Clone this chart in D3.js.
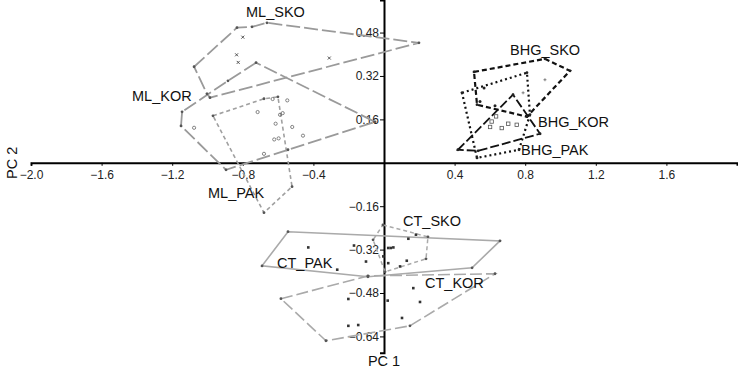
<!DOCTYPE html>
<html><head><meta charset="utf-8">
<script src="https://cdn.jsdelivr.net/npm/d3@7"></script>
<style>body{margin:0;background:#fff}svg{display:block}text{font-family:"Liberation Sans",Arial,sans-serif}</style>
</head><body><svg id="c" width="738" height="370"></svg>
<script>
// ---- data (PC1, PC2) ----
const groups = ["ML_SKO","ML_KOR","ML_PAK","BHG_SKO","BHG_KOR","BHG_PAK","CT_PAK","CT_KOR","CT_SKO"];
const hullML_SKO = [[-1.076,0.354],[-0.833,0.498],[-0.748,0.501],[-0.663,0.516],[0.198,0.442],[-0.986,0.240],[-1.003,0.254]];
const hullML_KOR = [[-0.725,0.369],[-0.884,0.302],[-1.144,0.188],[-1.150,0.136],[-0.895,-0.026],[-0.544,0.048],[-0.051,0.151]];
const hullML_PAK = [[-0.969,0.173],[-0.680,0.236],[-0.601,0.243],[-0.521,-0.088],[-0.680,-0.184]];
const hullBHG_SKO = [[0.510,0.335],[0.912,0.383],[1.054,0.339],[0.810,0.170],[0.527,0.214]];
const hullBHG_KOR = [[0.442,0.258],[0.810,0.332],[0.827,0.177],[0.765,0.048],[0.527,0.018]];
const hullBHG_PAK = [[0.419,0.048],[0.731,0.251],[0.884,0.107],[0.533,0.044]];
const hullCT_PAK = [[-0.544,-0.254],[0.657,-0.288],[0.499,-0.387],[-0.091,-0.420],[-0.691,-0.380]];
const hullCT_KOR = [[-0.584,-0.501],[-0.091,-0.417],[0.629,-0.409],[0.147,-0.601],[-0.329,-0.656]];
const hullCT_SKO = [[-0.006,-0.229],[0.249,-0.273],[0.238,-0.354],[0.006,-0.402],[-0.062,-0.284]];

const ptsML_SKO = [[-0.800,0.463],[-0.835,0.398],[-0.826,0.370],[-0.310,0.386]];
const ptsML_PAK = [[-0.631,0.235],[-0.548,0.230],[-0.716,0.187],[-0.589,0.177],[-0.574,0.183],[-0.614,0.144],[-0.520,0.132],[-0.459,0.100],[-0.622,0.086],[-0.597,0.090],[-0.680,0.033],[-1.076,0.129]];
const ptsBHG_sq = [[0.635,0.171],[0.601,0.132],[0.667,0.128],[0.704,0.144],[0.752,0.140],[0.610,0.152]];
const ptsBHG_plus = [[0.788,0.258],[0.912,0.306]];
const ptsBHG_dot = [[0.629,0.210],[0.544,0.226],[0.567,0.276]];
const ptsCT = [[0.138,-0.280],[0.181,-0.265],[0.038,-0.314],[0.053,-0.312],[0.024,-0.314],[-0.102,-0.364],[0.024,-0.370],[0.129,-0.361],[0.091,-0.382],[-0.004,-0.345],[-0.170,-0.305],[-0.429,-0.312],[-0.265,-0.394],[-0.202,-0.502],[0.166,-0.462],[0.204,-0.513],[0.021,-0.508],[-0.202,-0.601],[-0.146,-0.598],[0.102,-0.572]];

const xTicks = [-2.0,-1.6,-1.2,-0.8,-0.4,0.4,0.8,1.2,1.6];
const yTicks = [0.48,0.32,0.16,-0.16,-0.32,-0.48,-0.64];

// ---- layout ----
const svg = d3.select("#c");
const x = d3.scaleLinear().domain([-2,2]).range([31,737]);
const y = d3.scaleLinear().domain([-0.7,0.6]).range([352.7,0]);

const hulls = [
  {d:hullML_SKO, stroke:"#9a9a9a", dash:"14,4", w:1.8},
  {d:hullML_KOR, stroke:"#9a9a9a", dash:"14,4", w:1.8},
  {d:hullML_PAK, stroke:"#a0a0a0", dash:"4,3", w:1.6},
  {d:hullBHG_SKO, stroke:"#111", dash:"5,3", w:2.2},
  {d:hullBHG_KOR, stroke:"#111", dash:"2,3", w:2.2},
  {d:hullBHG_PAK, stroke:"#111", dash:"9,3", w:1.8},
  {d:hullCT_PAK, stroke:"#aaaaaa", dash:null, w:1.6},
  {d:hullCT_KOR, stroke:"#aaaaaa", dash:"12,4", w:1.6},
  {d:hullCT_SKO, stroke:"#aaaaaa", dash:"4,3", w:1.5}
];
const line = d3.line().x(d=>x(d[0])).y(d=>y(d[1])).curve(d3.curveLinearClosed);

// axes
const gx = svg.append("g").attr("transform",`translate(0,${y(0)})`)
  .call(d3.axisBottom(x).tickValues(xTicks).tickSize(3).tickFormat(d3.format(".1f")));
gx.select(".domain").attr("stroke","#000").attr("stroke-width",2);
gx.selectAll(".tick line").attr("stroke","#000");
gx.selectAll(".tick text").attr("font-size",12).attr("fill","#222").attr("dy","0.85em");

const gy = svg.append("g").attr("transform",`translate(${x(0)},0)`)
  .call(d3.axisLeft(y).tickValues(yTicks).tickSize(4).tickPadding(1).tickFormat(d3.format(".2f")));
gy.select(".domain").attr("stroke","#000").attr("stroke-width",2);
gy.selectAll(".tick line").attr("stroke","#000");
gy.selectAll(".tick text").attr("font-size",12).attr("fill","#222");

// hulls
svg.append("g").selectAll("path").data(hulls).join("path")
  .attr("d",h=>line(h.d)).attr("fill","none")
  .attr("stroke",h=>h.stroke).attr("stroke-width",h=>h.w)
  .attr("stroke-dasharray",h=>h.dash);

// vertex dots
hulls.forEach(h=>{
  svg.append("g").selectAll("circle").data(h.d).join("circle")
    .attr("cx",d=>x(d[0])).attr("cy",d=>y(d[1])).attr("r",1.4)
    .attr("fill", h.stroke==="#111" ? "#222" : "#555");
});

// interior points
svg.append("g").selectAll("path").data(ptsML_SKO).join("path")
  .attr("d",d=>`M${x(d[0])-1.5},${y(d[1])-1.5}L${x(d[0])+1.5},${y(d[1])+1.5}M${x(d[0])-1.5},${y(d[1])+1.5}L${x(d[0])+1.5},${y(d[1])-1.5}`)
  .attr("stroke","#444").attr("stroke-width",0.9);
svg.append("g").selectAll("circle").data(ptsML_PAK).join("circle")
  .attr("cx",d=>x(d[0])).attr("cy",d=>y(d[1])).attr("r",1.6)
  .attr("fill","none").attr("stroke","#666").attr("stroke-width",0.8);
svg.append("g").selectAll("rect").data(ptsBHG_sq).join("rect")
  .attr("x",d=>x(d[0])-1.7).attr("y",d=>y(d[1])-1.7).attr("width",3.4).attr("height",3.4)
  .attr("fill","none").attr("stroke","#555").attr("stroke-width",0.8);
svg.append("g").selectAll("path").data(ptsBHG_plus).join("path")
  .attr("d",d=>`M${x(d[0])-1.5},${y(d[1])}L${x(d[0])+1.5},${y(d[1])}M${x(d[0])},${y(d[1])-1.5}L${x(d[0])},${y(d[1])+1.5}`)
  .attr("stroke","#666").attr("stroke-width",0.8);
svg.append("g").selectAll("circle").data(ptsBHG_dot).join("circle")
  .attr("cx",d=>x(d[0])).attr("cy",d=>y(d[1])).attr("r",1.5).attr("fill","#222");
svg.append("g").selectAll("rect").data(ptsCT).join("rect")
  .attr("x",d=>x(d[0])-1.3).attr("y",d=>y(d[1])-1.3).attr("width",2.6).attr("height",2.6)
  .attr("fill","#333");

// group labels
const labelPos = {ML_SKO:[246,17],ML_KOR:[132,101],ML_PAK:[208,198],BHG_SKO:[510,55],BHG_KOR:[538,127],BHG_PAK:[521,155],CT_PAK:[277,268],CT_KOR:[425,288],CT_SKO:[403,226]};
svg.append("g").selectAll("text").data(groups).join("text")
  .attr("x",g=>labelPos[g][0]).attr("y",g=>labelPos[g][1])
  .attr("font-size",14.5).attr("fill","#111").text(g=>g);

// axis titles
svg.append("text").attr("x",x(0)).attr("y",366).attr("text-anchor","middle")
  .attr("font-size",14.5).attr("fill","#111").text("PC 1");
svg.append("text").attr("transform",`translate(17,${y(0)}) rotate(-90)`).attr("text-anchor","middle")
  .attr("font-size",14.5).attr("fill","#111").text("PC 2");
</script></body></html>
